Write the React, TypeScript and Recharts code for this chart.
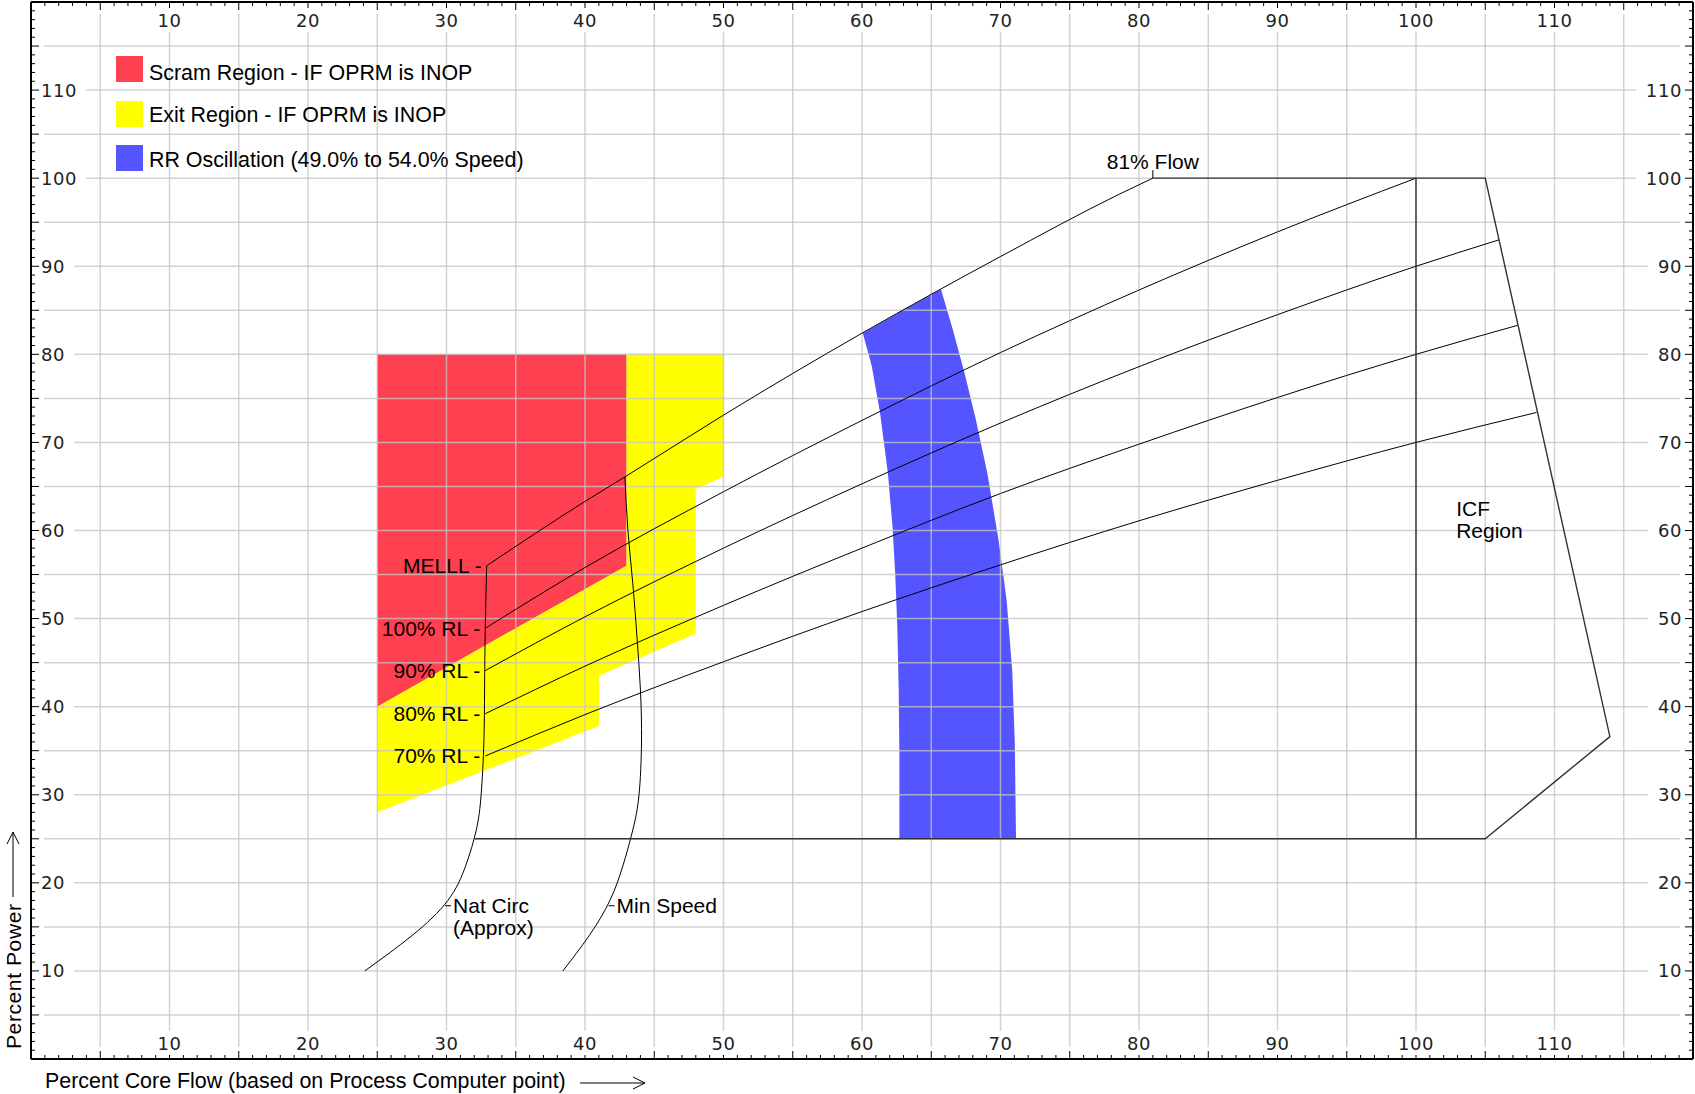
import React from 'react'
import {
  ComposedChart,
  XAxis,
  YAxis,
  CartesianGrid,
  Line,
  Scatter,
  ReferenceDot,
  Legend,
} from 'recharts'

// page box
const W = 1695
const H = 1094
const MARGIN = { top: 2, right: 2, bottom: 35, left: 31 }
const PLOT_LEFT = MARGIN.left
const PLOT_RIGHT = W - MARGIN.right
const PLOT_TOP = MARGIN.top
const PLOT_BOTTOM = H - MARGIN.bottom

const AXIS_DOMAIN: [number, number] = [0, 120]
const AXIS_TICKS = Array.from({ length: 121 }, (_, i) => i)
const GRID_STEPS = [5, 10, 15, 20, 25, 30, 35, 40, 45, 50, 55, 60, 65, 70, 75, 80, 85, 90, 95, 100, 105, 110, 115]

type Pt = { x: number; y: number }

// filled regions (percent core flow, percent power)
const scramRegion: Pt[] = [
  { x: 25, y: 80 },
  { x: 43, y: 80 },
  { x: 43, y: 56 },
  { x: 25, y: 40 },
]

const exitRegion: Pt[] = [
  { x: 43, y: 80 },
  { x: 50, y: 80 },
  { x: 50, y: 66.1 },
  { x: 48, y: 64.7 },
  { x: 48, y: 48.3 },
  { x: 41, y: 43.5 },
  { x: 41, y: 37.8 },
  { x: 25, y: 28 },
  { x: 25, y: 40 },
  { x: 43, y: 56 },
]

const rrOscillation: Pt[] = [
  { x: 60.06, y: 82.4 },
  { x: 62.9, y: 84.95 },
  { x: 65.7, y: 87.4 },
  { x: 66.56, y: 82.8 },
  { x: 67.4, y: 77.9 },
  { x: 68.22, y: 72.6 },
  { x: 69.05, y: 66.5 },
  { x: 69.85, y: 59.0 },
  { x: 70.45, y: 52.0 },
  { x: 70.85, y: 44.0 },
  { x: 71.03, y: 36.0 },
  { x: 71.12, y: 25 },
  { x: 62.7, y: 25 },
  { x: 62.7, y: 34.3 },
  { x: 62.65, y: 42.0 },
  { x: 62.55, y: 49.0 },
  { x: 62.4, y: 55.0 },
  { x: 62.2, y: 60.5 },
  { x: 61.87, y: 66.5 },
  { x: 61.3, y: 73.4 },
  { x: 60.7, y: 78.7 },
]

// boundary lines
const melllLine: Pt[] = [
  { x: 32.9, y: 56.0 },
  { x: 40, y: 63.3 },
  { x: 43, y: 66.2 },
  { x: 50, y: 73.1 },
  { x: 60, y: 82.4 },
  { x: 70, y: 91.1 },
  { x: 78.6, y: 98.2 },
  { x: 81, y: 100 },
]

const rodLine100: Pt[] = [
  { x: 32.8, y: 48.9 },
  { x: 40, y: 55.8 },
  { x: 50, y: 64.4 },
  { x: 60, y: 72.5 },
  { x: 70, y: 80.2 },
  { x: 80, y: 87.3 },
  { x: 90, y: 93.9 },
  { x: 100, y: 100 },
]

const rodLine90: Pt[] = [
  { x: 32.8, y: 44.1 },
  { x: 40, y: 50.2 },
  { x: 50, y: 58.0 },
  { x: 60, y: 65.3 },
  { x: 70, y: 72.2 },
  { x: 80, y: 78.6 },
  { x: 90, y: 84.5 },
  { x: 100, y: 90 },
  { x: 106.0, y: 93.0 },
]

const rodLine80: Pt[] = [
  { x: 32.8, y: 39.2 },
  { x: 40, y: 44.6 },
  { x: 50, y: 51.5 },
  { x: 60, y: 58.0 },
  { x: 70, y: 64.2 },
  { x: 80, y: 69.8 },
  { x: 90, y: 75.1 },
  { x: 100, y: 80 },
  { x: 107.35, y: 83.3 },
]

const rodLine70: Pt[] = [
  { x: 32.8, y: 34.4 },
  { x: 40, y: 39.1 },
  { x: 50, y: 45.1 },
  { x: 60, y: 50.8 },
  { x: 70, y: 56.1 },
  { x: 80, y: 61.1 },
  { x: 90, y: 65.7 },
  { x: 100, y: 70 },
  { x: 108.7, y: 73.4 },
]

const natCirc: Pt[] = [
  { x: 24.1, y: 10 },
  { x: 27.5, y: 14 },
  { x: 30.1, y: 18 },
  { x: 31.4, y: 22 },
  { x: 32.15, y: 26 },
  { x: 32.5, y: 30 },
  { x: 32.7, y: 36 },
  { x: 32.75, y: 42 },
  { x: 32.8, y: 48.9 },
  { x: 32.9, y: 56.0 },
]

const minSpeed: Pt[] = [
  { x: 38.4, y: 10 },
  { x: 40.3, y: 14 },
  { x: 41.8, y: 18 },
  { x: 42.75, y: 22 },
  { x: 43.45, y: 26 },
  { x: 43.9, y: 30 },
  { x: 44.08, y: 36 },
  { x: 44.0, y: 42 },
  { x: 43.75, y: 48 },
  { x: 43.45, y: 54 },
  { x: 43.1, y: 60 },
  { x: 42.88, y: 66.1 },
]

const envelope: Pt[] = [
  { x: 81, y: 100 },
  { x: 105, y: 100 },
  { x: 114, y: 36.6 },
  { x: 105, y: 25 },
  { x: 32.05, y: 25 },
]

const icfBoundary: Pt[] = [
  { x: 100, y: 25 },
  { x: 100, y: 100 },
]

const legendItems = [
  { label: 'Scram Region - IF OPRM is INOP', color: '#ff4050' },
  { label: 'Exit Region - IF OPRM is INOP', color: '#ffff00' },
  { label: 'RR Oscillation (49.0% to 54.0% Speed)', color: '#5555ff' },
]

const rodLabels = [
  { x: 32.9, y: 56.0, text: 'MELLL -' },
  { x: 32.8, y: 48.9, text: '100% RL -' },
  { x: 32.8, y: 44.1, text: '90% RL -' },
  { x: 32.8, y: 39.2, text: '80% RL -' },
  { x: 32.8, y: 34.4, text: '70% RL -' },
]

const curveLabels = [
  { x: 29.9, y: 17.4, lines: ['Nat Circ', '(Approx)'] },
  { x: 41.7, y: 17.4, lines: ['Min Speed'] },
]

const flowLabel = { x: 81, y: 100, text: '81% Flow' }
const icfLabel = { x: 102.9, y: 62.5, lines: ['ICF', 'Region'] }

const SANS = '"Liberation Sans", Arial, sans-serif'
const TICK_FONT = '"DejaVu Sans", sans-serif'
const GRID_STROKE = 'rgb(196,196,196)'

const polygon = (fill: string) => (props: any) => {
  const pts = props.points as { x: number; y: number }[] | undefined
  if (!pts || !pts.length) return <g />
  const d = pts.map((p, i) => `${i ? 'L' : 'M'}${p.x},${p.y}`).join('') + 'Z'
  return <path d={d} fill={fill} stroke="none" />
}

const noMarker = () => <g />

const tickText = {
  fontFamily: TICK_FONT,
  fontSize: 18,
  letterSpacing: 0.6,
  fill: '#222',
}

const labelled = (v: number) => v % 10 === 0 && v > 0 && v < 120
const tickLen = (v: number) => (v % 5 === 0 ? 8 : 4)
const labelW = (v: number) => String(v).length * 12 + 6

// flow ticks: drawn on both the bottom and the top edge of the plot
function FlowTick(p: any) {
  const v = p.payload.value
  if (v <= 0 || v >= 120) return <g />
  return (
    <g>
      <line x1={p.x} x2={p.x} y1={PLOT_BOTTOM} y2={PLOT_BOTTOM - tickLen(v)} stroke="#000" />
      <line x1={p.x} x2={p.x} y1={PLOT_TOP} y2={PLOT_TOP + tickLen(v)} stroke="#000" />
      {labelled(v) && (
        <>
          <rect x={p.x - labelW(v) / 2} y={PLOT_BOTTOM - 28} width={labelW(v)} height={24} fill="#fff" />
          <text x={p.x} y={PLOT_BOTTOM - 16} textAnchor="middle" dominantBaseline="central" {...tickText}>
            {v}
          </text>
          <rect x={p.x - labelW(v) / 2} y={PLOT_TOP + 6} width={labelW(v)} height={24} fill="#fff" />
          <text x={p.x} y={PLOT_TOP + 18} textAnchor="middle" dominantBaseline="central" {...tickText}>
            {v}
          </text>
        </>
      )}
    </g>
  )
}

function LeftTick(p: any) {
  const v = p.payload.value
  if (v <= 0 || v >= 120) return <g />
  return (
    <g>
      <line x1={PLOT_LEFT} x2={PLOT_LEFT + tickLen(v)} y1={p.y} y2={p.y} stroke="#000" />
      {labelled(v) && (
        <>
          <rect x={PLOT_LEFT + 9} y={p.y - 11} width={labelW(v) + 4} height={22} fill="#fff" />
          <text x={PLOT_LEFT + 10} y={p.y} textAnchor="start" dominantBaseline="central" {...tickText}>
            {v}
          </text>
        </>
      )}
    </g>
  )
}

function RightTick(p: any) {
  const v = p.payload.value
  if (v <= 0 || v >= 120) return <g />
  return (
    <g>
      <line x1={PLOT_RIGHT} x2={PLOT_RIGHT - tickLen(v)} y1={p.y} y2={p.y} stroke="#000" />
      {labelled(v) && (
        <>
          <rect x={PLOT_RIGHT - 11 - labelW(v) - 4} y={p.y - 11} width={labelW(v) + 4} height={22} fill="#fff" />
          <text x={PLOT_RIGHT - 11} y={p.y} textAnchor="end" dominantBaseline="central" {...tickText}>
            {v}
          </text>
        </>
      )}
    </g>
  )
}

const hGrid = (p: any) => (
  <line
    key={p.key}
    x1={p.x1 + 13}
    x2={p.x2 - 13}
    y1={p.y1}
    y2={p.y2}
    stroke={GRID_STROKE}
    strokeOpacity={0.75}
    strokeWidth={1.5}
  />
)

const vGrid = (p: any) => (
  <line
    key={p.key}
    x1={p.x1}
    x2={p.x2}
    y1={p.y1 + 12}
    y2={p.y2 - 12}
    stroke={GRID_STROKE}
    strokeOpacity={0.75}
    strokeWidth={1.5}
  />
)

const textStyle = { fontFamily: SANS, fontSize: 21, fill: '#000' }

function renderLegend() {
  return (
    <div style={{ position: 'relative', width: 480, height: 130, fontFamily: SANS, fontSize: 21.4 }}>
      {legendItems.map((item, i) => (
        <div key={item.label} style={{ position: 'absolute', left: 0, top: 6 + i * 44.5, height: 26, display: 'flex', alignItems: 'center', whiteSpace: 'nowrap' }}>
          <div style={{ width: 27, height: 26, background: item.color, marginLeft: 6 }} />
          <span style={{ marginLeft: 6, color: '#000', position: 'relative', top: i === 0 ? 4 : 2 }}>{item.label}</span>
        </div>
      ))}
    </div>
  )
}

const lineProps = {
  stroke: '#000',
  strokeWidth: 1,
  dot: false,
  activeDot: false,
  isAnimationActive: false,
  legendType: 'none' as const,
  zIndex: 400,
}

const axisProps = {
  type: 'number' as const,
  domain: AXIS_DOMAIN,
  ticks: AXIS_TICKS,
  interval: 0 as const,
  mirror: true,
  allowDataOverflow: true,
  axisLine: { stroke: '#000', strokeWidth: 2 },
  tickLine: false,
  zIndex: 500,
}

export default function App() {
  return (
    <div style={{ position: 'absolute', left: 0, top: 0, width: W, height: H, background: '#fff' }}>
      <ComposedChart width={W} height={H} margin={MARGIN}>
        <Scatter data={scramRegion} line={polygon('#ff4050')} lineType="joint" shape={noMarker} isAnimationActive={false} legendType="none" zIndex={100} />
        <Scatter data={exitRegion} line={polygon('#ffff00')} lineType="joint" shape={noMarker} isAnimationActive={false} legendType="none" zIndex={100} />
        <Scatter data={rrOscillation} line={polygon('#5555ff')} lineType="joint" shape={noMarker} isAnimationActive={false} legendType="none" zIndex={100} />

        <CartesianGrid horizontalValues={GRID_STEPS} verticalValues={GRID_STEPS} horizontal={hGrid} vertical={vGrid} zIndex={150} />

        <Line data={melllLine} dataKey="y" type="monotone" {...lineProps} />
        <Line data={rodLine100} dataKey="y" type="monotone" {...lineProps} />
        <Line data={rodLine90} dataKey="y" type="monotone" {...lineProps} />
        <Line data={rodLine80} dataKey="y" type="monotone" {...lineProps} />
        <Line data={rodLine70} dataKey="y" type="monotone" {...lineProps} />
        <Line data={natCirc} dataKey="y" type="natural" {...lineProps} />
        <Line data={minSpeed} dataKey="y" type="natural" {...lineProps} />
        <Line data={envelope} dataKey="y" type="linear" {...lineProps} stroke="#333" strokeWidth={1.4} />
        <Line data={icfBoundary} dataKey="y" type="linear" {...lineProps} stroke="#333" strokeWidth={1.4} />

        <XAxis dataKey="x" {...axisProps} tick={FlowTick} />
        <XAxis xAxisId="top" orientation="top" {...axisProps} tick={false} />
        <YAxis dataKey="y" {...axisProps} tick={LeftTick} />
        <YAxis yAxisId="right" orientation="right" {...axisProps} tick={RightTick} />

        {rodLabels.map((n) => (
          <ReferenceDot
            key={n.text}
            x={n.x}
            y={n.y}
            r={0}
            ifOverflow="visible"
            zIndex={700}
            shape={(p: any) => (
              <text x={p.cx - 5} y={p.cy} textAnchor="end" dominantBaseline="central" {...textStyle}>
                {n.text}
              </text>
            )}
          />
        ))}
        {curveLabels.map((n) => (
          <ReferenceDot
            key={n.lines[0]}
            x={n.x}
            y={n.y}
            r={0}
            ifOverflow="visible"
            zIndex={700}
            shape={(p: any) => (
              <g>
                <line x1={p.cx} x2={p.cx + 6} y1={p.cy} y2={p.cy} stroke="#000" />
                {n.lines.map((t, i) => (
                  <text key={t} x={p.cx + 8} y={p.cy + i * 22} dominantBaseline="central" {...textStyle}>
                    {t}
                  </text>
                ))}
              </g>
            )}
          />
        ))}
        <ReferenceDot
          x={flowLabel.x}
          y={flowLabel.y}
          r={0}
          ifOverflow="visible"
          zIndex={700}
          shape={(p: any) => (
            <g>
              <line x1={p.cx} x2={p.cx} y1={p.cy} y2={p.cy - 8} stroke="#000" />
              <text x={p.cx} y={p.cy - 9} textAnchor="middle" {...textStyle}>
                {flowLabel.text}
              </text>
            </g>
          )}
        />
        <ReferenceDot
          x={icfLabel.x}
          y={icfLabel.y}
          r={0}
          ifOverflow="visible"
          zIndex={700}
          shape={(p: any) => (
            <g>
              {icfLabel.lines.map((t, i) => (
                <text key={t} x={p.cx} y={p.cy + i * 22} dominantBaseline="central" {...textStyle}>
                  {t}
                </text>
              ))}
            </g>
          )}
        />

        <Legend
          layout="vertical"
          align="center"
          verticalAlign="middle"
          content={renderLegend}
          wrapperStyle={{ left: 110, top: 50, width: 480, height: 130 }}
        />
      </ComposedChart>

      <svg width={W} height={H} style={{ position: 'absolute', left: 0, top: 0, pointerEvents: 'none' }}>
        <text x={45} y={1081} dominantBaseline="central" fontFamily={SANS} fontSize={21.4} fill="#000">
          Percent Core Flow (based on Process Computer point)
        </text>
        <line x1={580} x2={645} y1={1083} y2={1083} stroke="#000" strokeWidth={1} />
        <path d="M633,1077 L645,1083 L633,1089" fill="none" stroke="#000" strokeWidth={1} />

        <text
          transform="translate(13,1049) rotate(-90)"
          x={0}
          y={0}
          dominantBaseline="central"
          fontFamily={SANS}
          fontSize={21}
          letterSpacing={0.6}
          fill="#000"
        >
          Percent Power
        </text>
        <line x1={13} x2={13} y1={897} y2={832} stroke="#000" strokeWidth={1} />
        <path d="M7,844 L13,832 L19,844" fill="none" stroke="#000" strokeWidth={1} />
      </svg>
    </div>
  )
}
